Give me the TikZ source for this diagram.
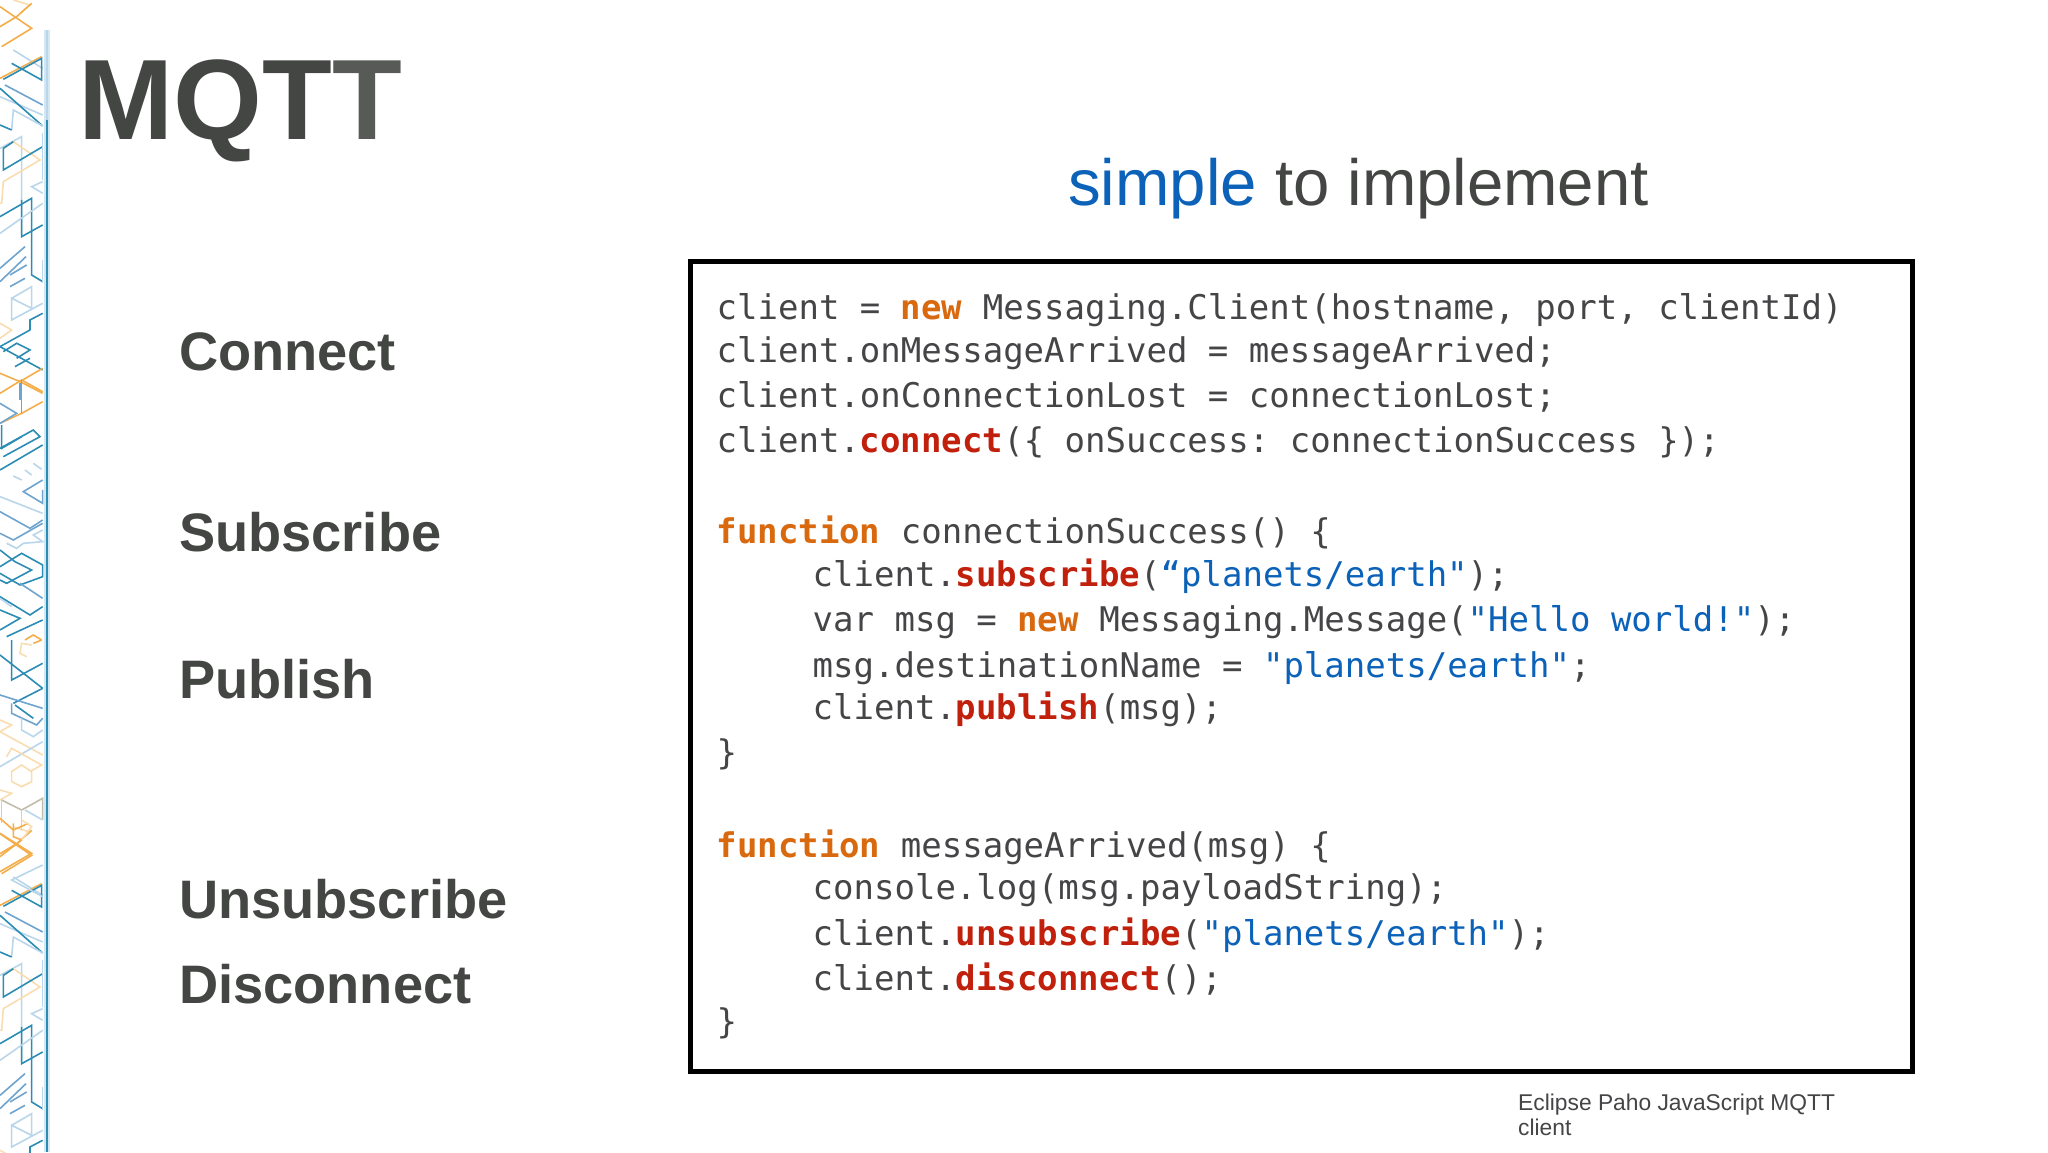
\documentclass[tikz,border=0pt]{standalone}
\usepackage{fontspec}
\setmainfont{Liberation Sans}
\setmonofont{DejaVu Sans Mono}
\definecolor{ink}{HTML}{444644}
\definecolor{inklt}{HTML}{585A58}
\definecolor{code}{HTML}{454548}
\definecolor{kwc}{HTML}{D9690F}
\definecolor{fnc}{HTML}{C0200C}
\definecolor{strc}{HTML}{0B62B8}
\definecolor{tl}{HTML}{2B8CB4}
\definecolor{mb}{HTML}{6FA4CF}
\definecolor{lb}{HTML}{B9D6EA}
\definecolor{og}{HTML}{F3AE4B}
\definecolor{lo}{HTML}{F9DDB0}
\definecolor{gb}{HTML}{C2BDA8}
\newcommand{\kwd}[1]{\textcolor{kwc}{\bfseries #1}}
\newcommand{\fnd}[1]{\textcolor{fnc}{\bfseries #1}}
\newcommand{\strd}[1]{\textcolor{strc}{#1}}
\tikzset{
  codeline/.style={anchor=base west,inner sep=0pt,text=code,font=\ttfamily\fontsize{34}{36}\selectfont},
  sidelabel/.style={anchor=base west,inner sep=0pt,text=ink,font=\bfseries\fontsize{54.2}{56}\selectfont},
  ln/.style={line width=1.6pt,line join=miter},
  T/.style={draw=tl,ln},M/.style={draw=mb,ln},L/.style={draw=lb,ln},
  O/.style={draw=og,ln},P/.style={draw=lo,ln},G/.style={draw=gb,ln}
}
% period of the strip pattern: zoomed coordinates (3x)
\newcommand{\stripA}{%
  \draw[P] (40,0)--(90,15)--(60,40);
  \draw[O] (0,20)--(95,85)--(5,140);
  \draw[O] (0,80)--(50,50)--(95,10);
  \draw[L] (40,150)--(128,205);
  \draw[O] (0,235)--(125,170);
  \draw[T] (10,238)--(125,175)--(125,240)--(35,190);
  \draw[M] (15,255)--(128,315);
  \draw[L] (0,290)--(128,345);
  \draw[T] (0,265)--(128,378);
  \draw[L] (128,378)--(40,330)--(35,390);
  \draw[T] (0,375)--(35,390);
  \draw[L] (0,445)--(65,410)--(65,705);
  \draw[P] (10,445)--(40,425)--(120,480)--(10,545)--(5,610)--(0,610);
  \draw[T] (128,440)--(10,510)--(10,445)--(40,425);
  \draw[L] (128,545)--(95,560)--(128,580);
  \draw[L] (128,400)--(128,540);
  \draw[T] (0,650)--(95,595)--(95,825)--(128,845);
  \draw[T] (65,600)--(65,710)--(128,675);
  \draw[L] (0,700)--(128,610);
  \draw[L] (128,850)--(128,780);
  \draw[M] (0,805)--(75,740);
  \draw[M] (0,845)--(78,770);
  \draw[M] (30,825)--(80,795);
  \draw[M] (30,860)--(75,835);
  \draw[L] (35,895)--(95,860)--(95,925)--(35,895)--(35,960)--(128,910);
  \draw[T] (0,1040)--(90,990)--(90,960)--(128,940);
  \draw[P] (0,970)--(35,990)--(0,1015);
  \draw[T] (0,1040)--(128,1110);
  \draw[T] (50,1075)--(90,1050)--(50,1030)--(10,1055);
  \draw[T] (45,1100)--(90,1075);
  \draw[O] (0,1120)--(60,1145)--(128,1105);
  \draw[O] (60,1145)--(128,1180);
  \draw[M] (60,1150)--(60,1200);
}
\begin{document}
\begin{tikzpicture}[x=1pt,y=-1pt]
\useasboundingbox (0,0) rectangle (2048,1152);
\fill[white] (0,0) rectangle (2048,1152);
% decorative strip
\begin{scope}
\clip (0,0) rectangle (44,1152);
\begin{scope}[x=.3333pt,y=-.3333pt]
  \stripA
\end{scope}
\begin{scope}[yshift=-827pt,x=.3333pt,y=-.3333pt]
  \stripA
\end{scope}
% section y = 380 .. 640
\begin{scope}[yshift=-380pt,x=.3333pt,y=-.3333pt]
  \draw[O] (0,40)--(65,0)--(128,35);
  \draw[O] (0,130)--(65,100)--(128,65);
  \draw[M] (65,0)--(65,100);
  \draw[M] (0,70)--(50,100)--(0,130);
  \draw[T] (5,135)--(5,205)--(65,170);
  \draw[T] (0,205)--(100,150)--(120,170)--(10,230);
  \draw[T] (0,270)--(128,195);
  \draw[L] (40,288)--(65,300);
  \draw[L] (75,270)--(95,285);
  \draw[L] (100,250)--(125,268);
  \draw[M] (128,300)--(70,335)--(128,370)--(128,330);
  \draw[L] (0,350)--(128,400);
  \draw[M] (0,395)--(90,445)--(128,420);
  \draw[M] (128,430)--(40,480)--(0,460);
  \draw[L] (128,450)--(100,465)--(128,485)--(70,490)--(50,505)--(20,490);
  \draw[T] (0,510)--(45,545)--(95,570)--(20,610)--(0,600);
  \draw[T] (0,560)--(65,520)--(128,555)--(128,590)--(60,615)--(0,580);
  \draw[M] (60,610)--(128,655);
  \draw[T] (0,650)--(90,705)--(128,680);
  \draw[T] (0,690)--(60,715)--(0,750);
  \draw[T] (20,770)--(128,720);
  \draw[L] (0,655)--(35,680);
  \draw[O] (75,780)--(100,765)--(125,780);
\end{scope}
% section y = 640 .. 885
\begin{scope}[yshift=-640pt,x=.3333pt,y=-.3333pt]
  \draw[P] (95,15)--(65,10)--(60,40)--(80,50);
  \draw[O] (100,10)--(125,0);
  \draw[T] (35,0)--(35,120)--(128,70);
  \draw[T] (0,45)--(128,145);
  \draw[T] (40,190)--(128,145);
  \draw[M] (0,165)--(128,205);
  \draw[M] (35,190)--(35,220)--(110,255)--(128,235);
  \draw[T] (45,195)--(100,235);
  \draw[L] (65,235)--(65,270)--(100,290)--(128,270);
  \draw[P] (0,240)--(35,255)--(0,275)--(128,345);
  \draw[L] (0,380)--(128,305);
  \draw[P] (20,350)--(35,325)--(125,375)--(90,395);
  \draw[P] (35,395)--(65,375)--(95,395)--(95,425)--(65,440)--(35,425)--cycle;
  \draw[P] (0,450)--(35,460)--(0,480);
  \draw[G] (5,480)--(65,510)--(128,475)--(128,540);
  \draw[L] (128,540)--(75,510);
  \draw[L] (65,510)--(65,570);
  \draw[L] (5,480)--(5,550);
  \draw[O] (0,535)--(40,570)--(85,550);
  \draw[O] (40,550)--(40,590)--(65,600);
  \draw[P] (65,540)--(95,560)--(65,600);
  \draw[O] (0,580)--(95,640)--(0,695);
  \draw[O] (0,650)--(65,600);
  \draw[L] (128,675)--(35,720)--(128,770);
\end{scope}
\end{scope}
\fill[lb!60] (44,30) rectangle (49.5,1152);
\fill[tl] (45.5,120) rectangle (47.5,1152);
\fill[lb] (45.5,30) rectangle (47.5,120);
% title and headings
\node[anchor=base west,inner sep=0pt,text=ink,font=\bfseries\fontsize{114.3}{116}\selectfont] (title) at (78,139) {MQT\textcolor{inklt}{T}};
\node[anchor=base west,inner sep=0pt,text=ink,font=\fontsize{65.3}{68}\selectfont] (head) at (1068,205) {\textcolor{strc}{simple} to implement};
\node[sidelabel] (l1) at (179,370) {Connect};
\node[sidelabel] (l2) at (179,551) {Subscribe};
\node[sidelabel] (l3) at (179,698) {Publish};
\node[sidelabel] (l4) at (179,918) {Unsubscribe};
\node[sidelabel] (l5) at (179,1003) {Disconnect};
% code box
\node[draw=black,line width=5pt,fill=white,minimum width=1222pt,minimum height=810pt,inner sep=0pt] (box) at (1301,666) {};
\node[codeline] (c1) at (716.5,319) {client = \kwd{new} Messaging.Client(hostname, port, clientId)};
\node[codeline] (c2) at (716.5,362) {client.onMessageArrived = messageArrived;};
\node[codeline] (c3) at (716.5,407.7) {client.onConnectionLost = connectionLost;};
\node[codeline] (c4) at (716.5,452.7) {client.\fnd{connect}(\{ onSuccess: connectionSuccess \});};
\node[codeline] (c5) at (716.5,543) {\kwd{function} connectionSuccess() \{};
\node[codeline] (c6) at (812.5,586) {client.\fnd{subscribe}(\strd{“planets/earth"});};
\node[codeline] (c7) at (812.5,631.7) {var msg = \kwd{new} Messaging.Message(\strd{"Hello world!"});};
\node[codeline] (c8) at (812.5,677) {msg.destinationName = \strd{"planets/earth"};};
\node[codeline] (c9) at (812.5,719) {client.\fnd{publish}(msg);};
\node[codeline] (c10) at (716.5,764) {\}};
\node[codeline] (c11) at (716.5,857) {\kwd{function} messageArrived(msg) \{};
\node[codeline] (c12) at (812.5,899) {console.log(msg.payloadString);};
\node[codeline] (c13) at (812.5,945) {client.\fnd{unsubscribe}(\strd{"planets/earth"});};
\node[codeline] (c14) at (812.5,990.5) {client.\fnd{disconnect}();};
\node[codeline] (c15) at (716.5,1033) {\}};
% caption
\node[anchor=base west,inner sep=0pt,text=code,font=\fontsize{22.8}{25}\selectfont] (cap1) at (1518,1110) {Eclipse Paho JavaScript MQTT};
\node[anchor=base west,inner sep=0pt,text=code,font=\fontsize{22.8}{25}\selectfont] (cap2) at (1518,1135) {client};
\end{tikzpicture}
\end{document}
